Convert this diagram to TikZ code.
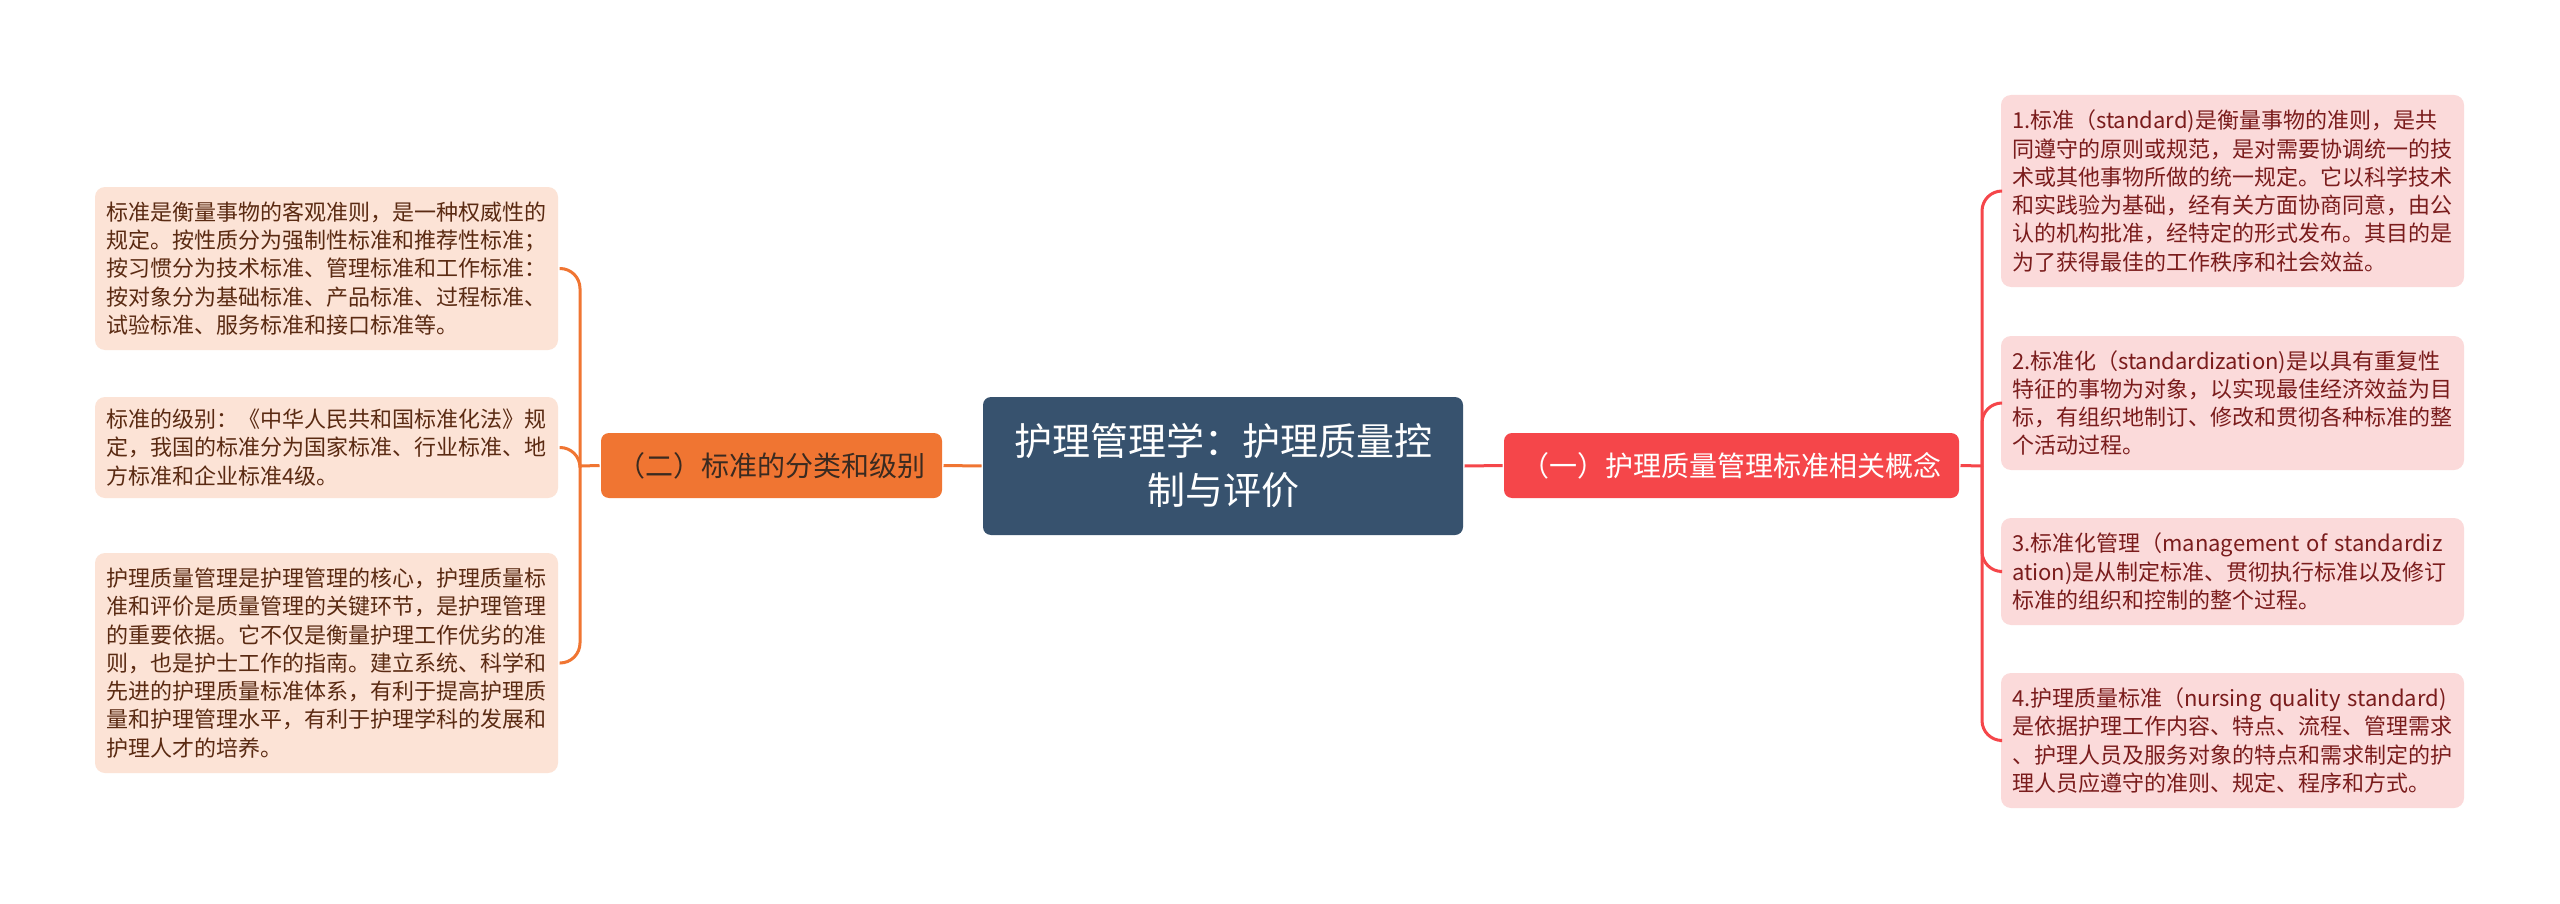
\documentclass[tikz,border=0pt]{standalone}
\usepackage{fontspec}
\setmainfont{Noto Sans CJK SC}
\definecolor{rootblue}{HTML}{37526E}
\definecolor{redmain}{HTML}{F5464A}
\definecolor{orangemain}{HTML}{F07532}
\definecolor{redleaf}{HTML}{FBDADA}
\definecolor{redtext}{HTML}{7A1C1C}
\definecolor{orangeleaf}{HTML}{FCE3D6}
\definecolor{orangetext}{HTML}{5A2A12}
\definecolor{darktext}{HTML}{3A2A20}

\begin{document}
\begin{tikzpicture}[x=0.5pt,y=-0.5pt,line width=1.5pt,
                    leaf/.style={rounded corners=5pt,text width=220.5pt,align=left,
                      inner xsep=5.5pt,inner ysep=0pt,font=\fontsize{11pt}{14.15pt}\selectfont},
                    topic/.style={rounded corners=4pt,minimum height=32.5pt,inner sep=0pt,
                      font=\fontsize{14pt}{17pt}\selectfont}]
  \tikzstyle{rleaf}=[leaf,fill=redleaf,text=redtext]
  \tikzstyle{lleaf}=[leaf,fill=orangeleaf,text=orangetext]

  \useasboundingbox[fill=white] (0,0) rectangle (2560,904);

  \node[rounded corners=4pt,fill=rootblue,text=white,minimum width=240pt,minimum height=69pt,
        text width=215pt,align=center,font=\fontsize{19pt}{24.5pt}\selectfont]
    (root) at (1223,466) {护理管理学：护理质量控\\制与评价};
  \node[topic,fill=redmain,text=white,minimum width=227.5pt] (one) at (1731.5,465.5)
    {（一）护理质量管理标准相关概念};
  \node[topic,fill=orangemain,text=darktext,minimum width=170.5pt] (two) at (771.5,465.5)
    {（二）标准的分类和级别};

  \node[rleaf,minimum height=96pt] (r1) at (2232.5,191)
    {1.标准（standard)是衡量事物的准则，是共\\同遵守的原则或规范，是对需要协调统一的技\\术或其他事物所做的统一规定。它以科学技术\\和实践验为基础，经有关方面协商同意，由公\\认的机构批准，经特定的形式发布。其目的是\\为了获得最佳的工作秩序和社会效益。};
  \node[rleaf,minimum height=67pt] (r2) at (2232.5,403)
    {2.标准化（standardization)是以具有重复性\\特征的事物为对象，以实现最佳经济效益为目\\标，有组织地制订、修改和贯彻各种标准的整\\个活动过程。};
  \node[rleaf,minimum height=53.5pt] (r3) at (2232.5,571.5)
    {3.标准化管理（management~of~standardiz\\ation)是从制定标准、贯彻执行标准以及修订\\标准的组织和控制的整个过程。};
  \node[rleaf,minimum height=67.5pt] (r4) at (2232.5,740.5)
    {4.护理质量标准（nursing~quality~standard)\\是依据护理工作内容、特点、流程、管理需求\\、护理人员及服务对象的特点和需求制定的护\\理人员应遵守的准则、规定、程序和方式。};

  \node[lleaf,minimum height=81.5pt] (l1) at (326.5,268.5)
    {标准是衡量事物的客观准则，是一种权威性的\\规定。按性质分为强制性标准和推荐性标准；\\按习惯分为技术标准、管理标准和工作标准：\\按对象分为基础标准、产品标准、过程标准、\\试验标准、服务标准和接口标准等。};
  \node[lleaf,minimum height=50.5pt] (l2) at (326.5,447.5)
    {标准的级别：《中华人民共和国标准化法》规\\定，我国的标准分为国家标准、行业标准、地\\方标准和企业标准4级。};
  \node[lleaf,minimum height=110pt] (l3) at (326.5,663)
    {护理质量管理是护理管理的核心，护理质量标\\准和评价是质量管理的关键环节，是护理管理\\的重要依据。它不仅是衡量护理工作优劣的准\\则，也是护士工作的指南。建立系统、科学和\\先进的护理质量标准体系，有利于提高护理质\\量和护理管理水平，有利于护理学科的发展和\\护理人才的培养。};

  \coordinate (rj) at (1982,466);
  \coordinate (lj) at (580,466);

  \draw[redmain] (root.east) -- (one.west);
  \draw[orangemain] (root.west) -- (two.east);
  \draw[redmain] (one.east) -- (rj);
  \draw[orangemain] (two.west) -- (lj);
  \foreach \n in {r1,r2,r3,r4}
    \draw[redmain,rounded corners=10pt] (rj) |- (\n.west);
  \foreach \n in {l1,l2,l3}
    \draw[orangemain,rounded corners=10pt] (lj) |- (\n.east);
\end{tikzpicture}
\end{document}
